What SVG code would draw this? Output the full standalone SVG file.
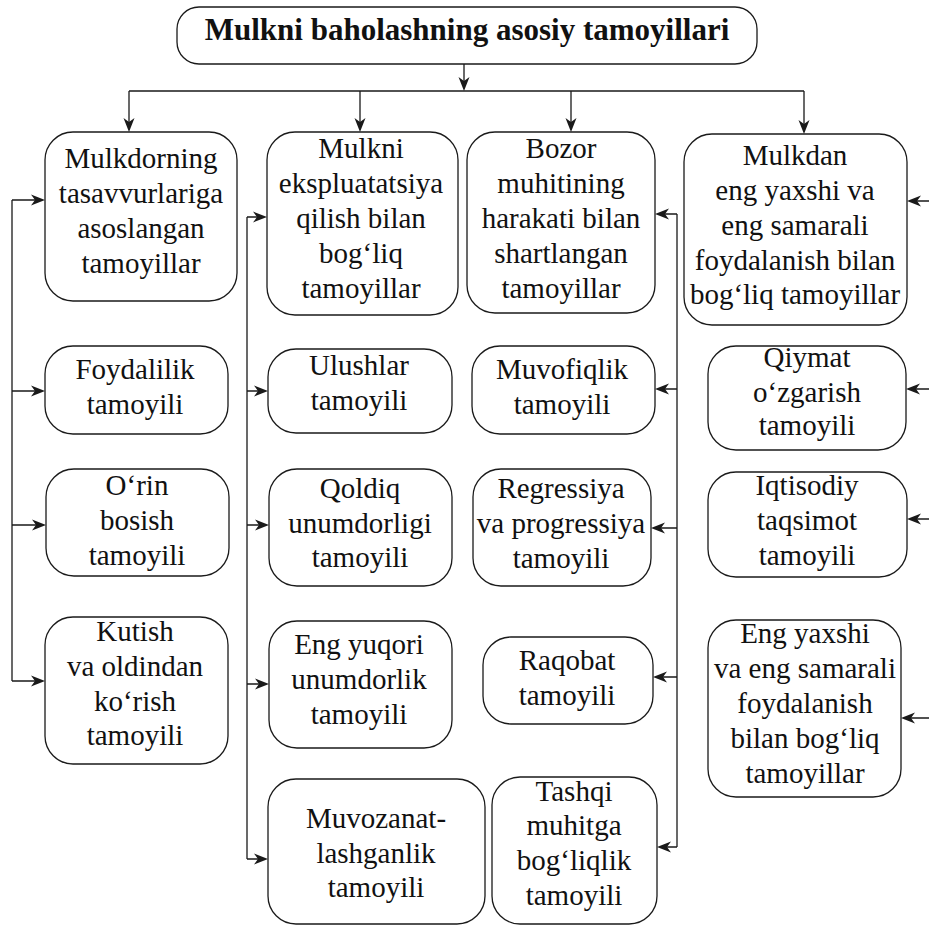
<svg xmlns="http://www.w3.org/2000/svg" xmlns:xlink="http://www.w3.org/1999/xlink" width="929" height="926" viewBox="0 0 929 926">
<style>
.box{fill:#fff;stroke:#1a1a1a;stroke-width:1.3}
.t{font-size:29px;text-anchor:middle;fill:#111}
.tb{font-size:31px;font-weight:bold;text-anchor:middle;fill:#111}
.c{stroke:#1a1a1a;stroke-width:1.3;fill:none}
.h{fill:#1a1a1a}
</style>
<defs>
<path id="head" d="M0,0 L-14,-5.5 L-10,0 L-14,5.5 Z"/>
</defs>
<rect width="929" height="926" fill="#fff"/>
<g id="n1">
<rect class="box" x="45" y="132" width="192" height="169" rx="28"/>
<text class="t" font-family="Liberation Serif" x="141" y="168">Mulkdorning</text>
<text class="t" font-family="Liberation Serif" x="141" y="203">tasavvurlariga</text>
<text class="t" font-family="Liberation Serif" x="141" y="238">asoslangan</text>
<text class="t" font-family="Liberation Serif" x="141" y="273">tamoyillar</text>
</g>
<g id="n2">
<rect class="box" x="267" y="132" width="191" height="183" rx="28"/>
<text class="t" font-family="Liberation Serif" x="361" y="158">Mulkni</text>
<text class="t" font-family="Liberation Serif" x="361" y="193">ekspluatatsiya</text>
<text class="t" font-family="Liberation Serif" x="361" y="228">qilish bilan</text>
<text class="t" font-family="Liberation Serif" x="361" y="263">bog‘liq</text>
<text class="t" font-family="Liberation Serif" x="361" y="298">tamoyillar</text>
</g>
<g id="n3">
<rect class="box" x="467" y="132" width="188" height="181" rx="28"/>
<text class="t" font-family="Liberation Serif" x="561" y="158">Bozor</text>
<text class="t" font-family="Liberation Serif" x="561" y="193">muhitining</text>
<text class="t" font-family="Liberation Serif" x="561" y="228">harakati bilan</text>
<text class="t" font-family="Liberation Serif" x="561" y="263">shartlangan</text>
<text class="t" font-family="Liberation Serif" x="561" y="298">tamoyillar</text>
</g>
<g id="n4">
<rect class="box" x="684" y="134" width="223" height="191" rx="28"/>
<text class="t" font-family="Liberation Serif" x="795" y="165">Mulkdan</text>
<text class="t" font-family="Liberation Serif" x="795" y="200">eng yaxshi va</text>
<text class="t" font-family="Liberation Serif" x="795" y="235">eng samarali</text>
<text class="t" font-family="Liberation Serif" x="795" y="270">foydalanish bilan</text>
<text class="t" font-family="Liberation Serif" x="795" y="304">bog‘liq tamoyillar</text>
</g>
<g id="n5">
<rect class="box" x="45" y="346" width="183" height="88" rx="28"/>
<text class="t" font-family="Liberation Serif" x="135" y="379">Foydalilik</text>
<text class="t" font-family="Liberation Serif" x="135" y="414">tamoyili</text>
</g>
<g id="n6">
<rect class="box" x="268" y="349" width="184" height="84" rx="28"/>
<text class="t" font-family="Liberation Serif" x="359" y="375">Ulushlar</text>
<text class="t" font-family="Liberation Serif" x="359" y="410">tamoyili</text>
</g>
<g id="n7">
<rect class="box" x="472" y="346" width="183" height="88" rx="28"/>
<text class="t" font-family="Liberation Serif" x="562" y="379">Muvofiqlik</text>
<text class="t" font-family="Liberation Serif" x="562" y="414">tamoyili</text>
</g>
<g id="n8">
<rect class="box" x="708" y="346" width="198" height="104" rx="28"/>
<text class="t" font-family="Liberation Serif" x="807" y="367">Qiymat</text>
<text class="t" font-family="Liberation Serif" x="807" y="402">o‘zgarish</text>
<text class="t" font-family="Liberation Serif" x="807" y="435">tamoyili</text>
</g>
<g id="n9">
<rect class="box" x="46" y="469" width="183" height="107" rx="28"/>
<text class="t" font-family="Liberation Serif" x="137" y="495">O‘rin</text>
<text class="t" font-family="Liberation Serif" x="137" y="530">bosish</text>
<text class="t" font-family="Liberation Serif" x="137" y="565">tamoyili</text>
</g>
<g id="n10">
<rect class="box" x="269" y="469" width="183" height="117" rx="28"/>
<text class="t" font-family="Liberation Serif" x="360" y="498">Qoldiq</text>
<text class="t" font-family="Liberation Serif" x="360" y="533">unumdorligi</text>
<text class="t" font-family="Liberation Serif" x="360" y="567">tamoyili</text>
</g>
<g id="n11">
<rect class="box" x="473" y="469" width="178" height="117" rx="28"/>
<text class="t" font-family="Liberation Serif" x="561" y="498">Regressiya</text>
<text class="t" font-family="Liberation Serif" x="561" y="533">va progressiya</text>
<text class="t" font-family="Liberation Serif" x="561" y="568">tamoyili</text>
</g>
<g id="n12">
<rect class="box" x="708" y="472" width="199" height="105" rx="28"/>
<text class="t" font-family="Liberation Serif" x="807" y="495">Iqtisodiy</text>
<text class="t" font-family="Liberation Serif" x="807" y="530">taqsimot</text>
<text class="t" font-family="Liberation Serif" x="807" y="565">tamoyili</text>
</g>
<g id="n13">
<rect class="box" x="45" y="617" width="183" height="147" rx="28"/>
<text class="t" font-family="Liberation Serif" x="135" y="641">Kutish</text>
<text class="t" font-family="Liberation Serif" x="135" y="676">va oldindan</text>
<text class="t" font-family="Liberation Serif" x="135" y="711">ko‘rish</text>
<text class="t" font-family="Liberation Serif" x="135" y="745">tamoyili</text>
</g>
<g id="n14">
<rect class="box" x="269" y="621" width="183" height="127" rx="28"/>
<text class="t" font-family="Liberation Serif" x="359" y="654">Eng yuqori</text>
<text class="t" font-family="Liberation Serif" x="359" y="689">unumdorlik</text>
<text class="t" font-family="Liberation Serif" x="359" y="724">tamoyili</text>
</g>
<g id="n15">
<rect class="box" x="483" y="637" width="170" height="87" rx="28"/>
<text class="t" font-family="Liberation Serif" x="567" y="670">Raqobat</text>
<text class="t" font-family="Liberation Serif" x="567" y="705">tamoyili</text>
</g>
<g id="n16">
<rect class="box" x="708" y="620" width="193" height="177" rx="28"/>
<text class="t" font-family="Liberation Serif" x="805" y="643">Eng yaxshi</text>
<text class="t" font-family="Liberation Serif" x="805" y="678">va eng samarali</text>
<text class="t" font-family="Liberation Serif" x="805" y="713">foydalanish</text>
<text class="t" font-family="Liberation Serif" x="805" y="748">bilan bog‘liq</text>
<text class="t" font-family="Liberation Serif" x="805" y="783">tamoyillar</text>
</g>
<g id="n17">
<rect class="box" x="268" y="779" width="217" height="145" rx="28"/>
<text class="t" font-family="Liberation Serif" x="376" y="828">Muvozanat-</text>
<text class="t" font-family="Liberation Serif" x="376" y="863">lashganlik</text>
<text class="t" font-family="Liberation Serif" x="376" y="897">tamoyili</text>
</g>
<g id="n18">
<rect class="box" x="492" y="777" width="165" height="147" rx="28"/>
<text class="t" font-family="Liberation Serif" x="574" y="801">Tashqi</text>
<text class="t" font-family="Liberation Serif" x="574" y="835">muhitga</text>
<text class="t" font-family="Liberation Serif" x="574" y="870">bog‘liqlik</text>
<text class="t" font-family="Liberation Serif" x="574" y="905">tamoyili</text>
</g>
<g id="title">
<rect class="box" x="177" y="7" width="580" height="57" rx="22"/>
<text class="tb" font-family="Liberation Serif" x="467" y="40">Mulkni baholashning asosiy tamoyillari</text>
</g>
<g id="connectors">
<path class="c" d="M464,64 V88 M129,91 H804 M129,91 V129 M360,91 V129 M571,91 V129 M804,91 V131"/>
<path class="c" d="M12,200 V681 M12,200 H42 M12,391 H42 M12,525 H43 M12,681 H42"/>
<path class="c" d="M247,217 V859 M247,217 H264 M247,391 H265 M247,525 H266 M247,684 H266 M247,859 H265"/>
<path class="c" d="M677,214 V847 M677,214 H658 M677,389 H658 M677,528 H654 M677,677 H656 M677,847 H660"/>
<path class="c" d="M929,201 H910 M929,389 H909 M929,519 H910 M929,718 H904"/>
<g class="h">
<use xlink:href="#head" transform="translate(464,91) rotate(90)"/>
<use xlink:href="#head" transform="translate(129,132) rotate(90)"/>
<use xlink:href="#head" transform="translate(360,132) rotate(90)"/>
<use xlink:href="#head" transform="translate(571,132) rotate(90)"/>
<use xlink:href="#head" transform="translate(804,134) rotate(90)"/>
<use xlink:href="#head" transform="translate(45,200)"/>
<use xlink:href="#head" transform="translate(45,391)"/>
<use xlink:href="#head" transform="translate(46,525)"/>
<use xlink:href="#head" transform="translate(45,681)"/>
<use xlink:href="#head" transform="translate(267,217)"/>
<use xlink:href="#head" transform="translate(268,391)"/>
<use xlink:href="#head" transform="translate(269,525)"/>
<use xlink:href="#head" transform="translate(269,684)"/>
<use xlink:href="#head" transform="translate(268,859)"/>
<use xlink:href="#head" transform="translate(655,214) rotate(180)"/>
<use xlink:href="#head" transform="translate(655,389) rotate(180)"/>
<use xlink:href="#head" transform="translate(651,528) rotate(180)"/>
<use xlink:href="#head" transform="translate(653,677) rotate(180)"/>
<use xlink:href="#head" transform="translate(657,847) rotate(180)"/>
<use xlink:href="#head" transform="translate(907,201) rotate(180)"/>
<use xlink:href="#head" transform="translate(906,389) rotate(180)"/>
<use xlink:href="#head" transform="translate(907,519) rotate(180)"/>
<use xlink:href="#head" transform="translate(901,718) rotate(180)"/>
</g>
</g>
</svg>
